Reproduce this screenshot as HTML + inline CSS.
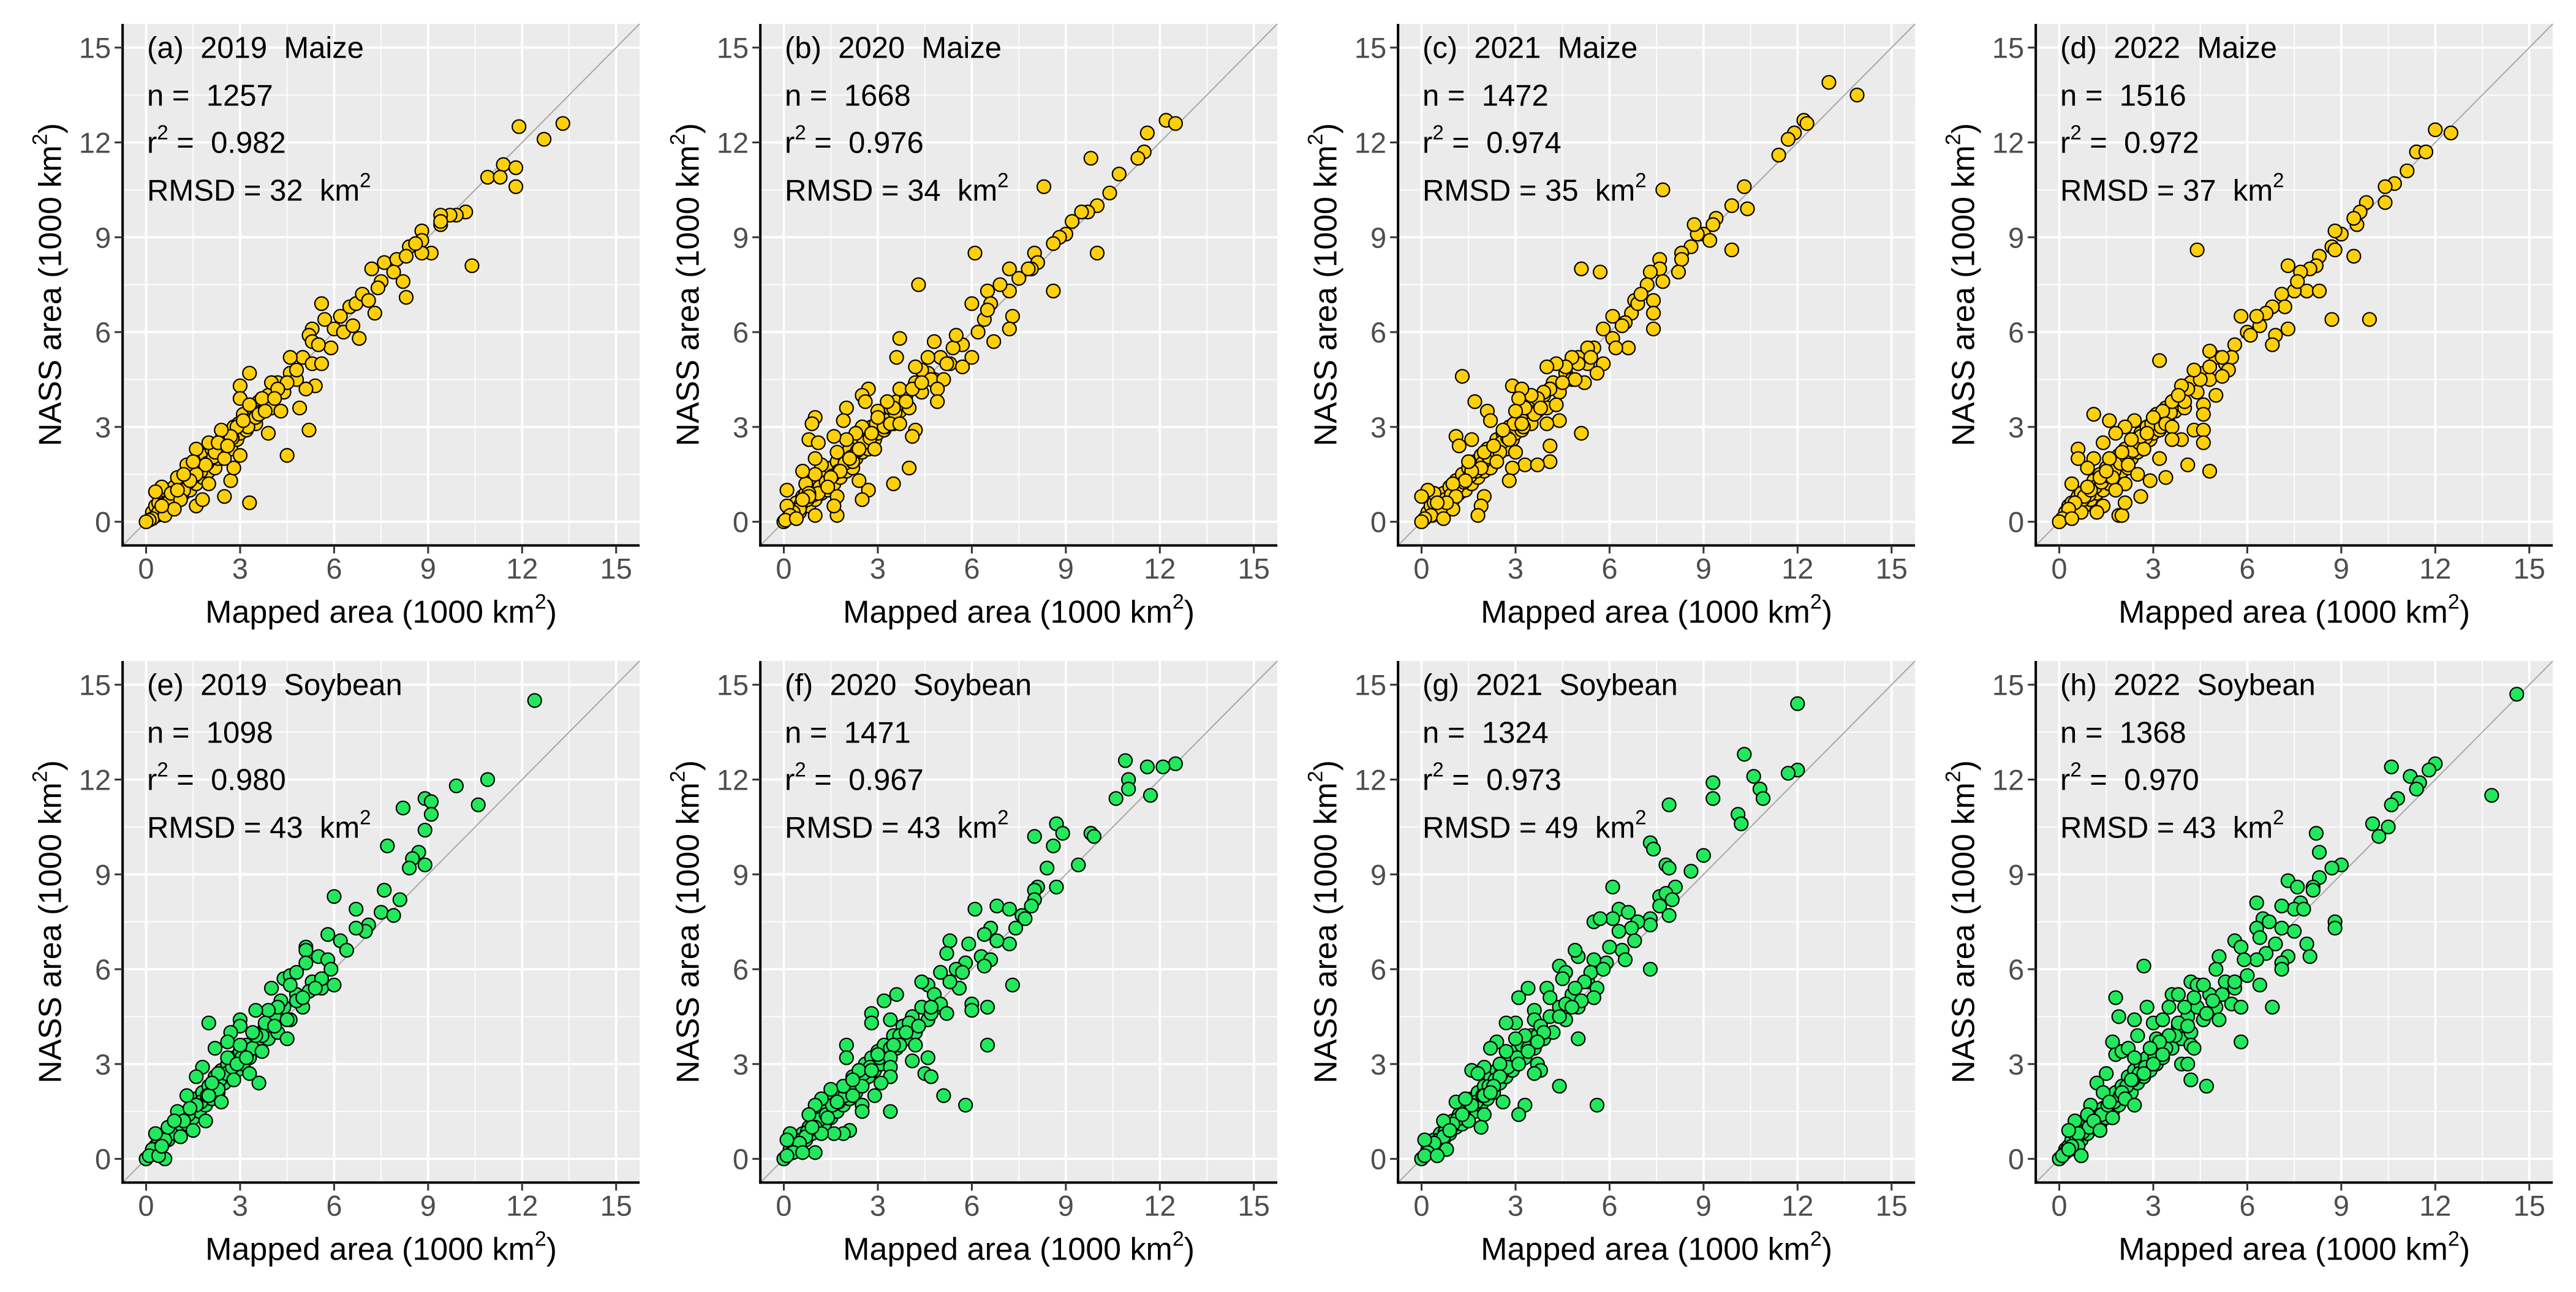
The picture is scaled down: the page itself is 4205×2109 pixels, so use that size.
<!DOCTYPE html>
<html><head><meta charset="utf-8">
<style>
html,body{margin:0;padding:0;background:#fff;}
svg{display:block;}
text{font-family:"Liberation Sans",Arial,sans-serif;}
</style></head>
<body>
<svg id="fig" xmlns="http://www.w3.org/2000/svg" width="4205" height="2109" viewBox="0 0 4205 2109"></svg>
<script>
// ---- data (mapped area, NASS area) in 1000 km2 ----
const maize2019 = [[11.9,12.5],[13.3,12.6],[12.7,12.1],[11.4,11.3],[11.8,11.2],[11.8,10.6],[10.9,10.9],[11.3,10.9],[10.4,8.1],[10.2,9.8],[9.9,9.7],[9.7,9.7],[9.4,9.7],[9.4,9.4],[9.4,9.5],[8.8,9.2],[8.8,8.9],[9.1,8.5],[8.8,8.5],[8.3,7.1],[8.2,7.6],[7.2,8.0],[7.6,8.2],[7.5,7.6],[7.4,7.4],[6.8,5.8],[7.3,6.6],[5.6,6.9],[5.7,6.4],[6.5,6.8],[6.7,6.9],[5.3,6.1],[5.2,5.9],[5.3,5.7],[5.9,5.5],[5.6,5.0],[6.0,6.1],[6.3,6.0],[4.6,5.2],[5.4,4.3],[5.1,4.2],[4.9,3.6],[5.2,2.9],[4.5,2.1],[3.3,4.7],[3.0,4.3],[3.0,3.9],[3.3,0.6],[2.5,0.8],[3.0,2.1],[2.7,1.3],[3.9,2.8],[4.3,3.5],[4.0,4.4],[4.5,4.4],[4.8,4.8],[3.5,3.3],[3.3,3.7],[2.9,3.0],[2.7,2.7],[2.4,2.9],[2.2,2.2],[2.5,2.0],[2.8,1.7],[1.6,2.3],[1.9,1.8],[1.6,1.5],[1.3,1.8],[1.0,1.4],[1.2,1.0],[0.5,1.1],[0.7,0.6],[0.3,0.95],[0.8,0.9],[0.4,0.3],[0.2,0.1],[0.1,0.05],[0,0],[0.6,0.2],[1.6,0.5],[1.8,0.7],[2.0,1.2],[1.1,0.7],[3.7,3.9],[3.6,3.4],[4.2,4.2],[6.9,7.2],[7.1,7.0],[8.0,8.3],[8.4,8.7],[8.6,8.8],[6.2,6.5],[5.5,5.6],[2.0,2.5],[1.4,1.3],[0.9,0.4],[2.3,2.5],[1.0,1.0],[3.1,3.2],[3.8,3.5],[4.1,3.9],[6.6,6.2],[7.9,7.9],[8.3,8.4],[1.5,1.9],[2.6,2.4],[0.5,0.5],[1.2,1.5]];
const maize2020 = [[12.2,12.7],[12.5,12.6],[11.6,12.3],[11.5,11.7],[11.3,11.5],[9.8,11.5],[10.7,11.0],[10.4,10.4],[10.0,10.0],[9.7,9.8],[9.5,9.8],[9.2,9.5],[8.3,10.6],[10.0,8.5],[9.0,9.1],[8.8,9.0],[8.6,8.8],[8.6,7.3],[8.0,8.5],[8.1,8.2],[7.9,8.0],[7.5,7.7],[7.2,8.0],[7.2,7.3],[7.3,6.5],[7.2,6.1],[6.1,8.5],[4.3,7.5],[6.9,7.5],[6.5,7.3],[6.0,6.9],[6.6,6.9],[6.4,6.4],[6.2,6.0],[6.7,5.7],[6.0,5.2],[5.7,5.6],[5.7,4.9],[5.4,5.5],[5.2,5.0],[4.8,5.7],[4.6,5.2],[4.4,4.8],[4.7,4.5],[5.1,4.5],[4.9,4.2],[4.9,3.8],[3.7,5.8],[3.6,5.2],[4.2,4.9],[3.7,4.2],[4.1,4.2],[4.4,4.4],[3.9,3.8],[3.5,3.6],[3.3,3.8],[3.0,3.5],[2.7,4.2],[2.5,4.0],[2.6,3.8],[2.0,3.6],[1.9,3.2],[1.0,3.3],[0.9,3.1],[0.8,2.6],[1.1,2.5],[2.5,3.0],[2.3,2.8],[3.2,3.0],[3.0,3.3],[3.4,3.1],[3.7,3.1],[4.2,2.9],[4.1,2.7],[4.0,1.7],[3.5,1.2],[2.7,1.0],[2.5,0.7],[2.4,1.3],[2.2,1.9],[2.4,2.3],[2.0,2.6],[1.6,2.7],[1.7,2.2],[1.8,1.6],[1.5,1.4],[1.2,1.8],[1.0,1.5],[1.0,2.0],[0.7,1.2],[0.6,1.6],[1.7,0.8],[1.7,0.2],[1.6,0.5],[1.0,0.2],[1.1,0.9],[0.8,0.9],[0.8,0.8],[0.5,0.4],[0.3,0.3],[0.1,1.0],[0.1,0.5],[0.2,0.2],[0,0],[0.05,0.05],[0.4,0.1],[2.9,2.3],[2.8,2.8],[5.5,5.9],[6.5,6.7],[7.8,8.0],[1.4,1.1],[2.1,2.0],[0.6,0.7]];
const maize2021 = [[13.0,13.9],[13.9,13.5],[12.2,12.7],[12.3,12.6],[11.9,12.3],[11.7,12.1],[11.4,11.6],[10.3,10.6],[9.9,10.0],[10.4,9.9],[7.7,10.5],[9.4,9.6],[9.3,9.4],[9.0,9.1],[9.2,8.9],[8.8,9.1],[8.7,9.4],[9.9,8.6],[8.6,8.7],[8.3,8.5],[8.3,8.3],[8.2,7.9],[7.6,8.3],[7.6,8.0],[7.3,7.9],[7.7,7.6],[7.2,7.5],[5.1,8.0],[5.7,7.9],[6.8,7.0],[7.4,7.0],[7.4,6.6],[7.4,6.1],[6.7,6.6],[6.5,6.3],[6.6,5.5],[6.1,6.5],[6.1,5.8],[5.8,6.1],[6.4,6.2],[6.2,5.5],[5.5,5.5],[5.8,5.0],[5.6,4.7],[5.3,5.5],[5.2,4.4],[5.0,5.0],[4.8,5.2],[4.9,4.5],[4.6,4.9],[4.3,5.0],[4.0,4.9],[4.5,4.4],[4.1,4.2],[4.3,3.7],[3.9,4.1],[3.7,3.9],[3.5,4.0],[3.6,3.4],[3.3,3.6],[2.9,4.3],[3.2,4.2],[3.1,3.9],[3.0,3.5],[3.2,3.1],[4.4,3.2],[4.0,3.1],[2.1,3.5],[2.2,3.2],[1.7,3.8],[1.3,4.6],[1.1,2.7],[1.2,2.4],[1.6,2.6],[2.0,2.2],[2.5,2.2],[2.8,2.6],[3.0,2.2],[3.3,1.8],[2.9,1.7],[4.1,2.4],[4.1,1.9],[3.7,1.8],[2.8,1.3],[5.1,2.8],[1.9,1.7],[1.6,1.6],[1.4,1.3],[1.0,1.2],[1.1,0.8],[2.0,0.8],[1.9,0.5],[1.8,0.2],[1.0,0.4],[0.6,0.4],[0.4,0.9],[0.2,1.0],[0.0,0.8],[0.3,0.2],[0.1,0.1],[0,0],[0.8,0.6],[0.7,0.1],[2.3,2.4],[2.6,2.9],[3.8,3.6],[5.4,5.2],[6.9,6.9],[7.0,7.2],[1.5,1.9],[2.4,1.9],[0.5,0.6]];
const maize2022 = [[12.0,12.4],[12.5,12.3],[11.4,11.7],[11.7,11.7],[11.1,11.1],[10.7,10.7],[10.4,10.6],[10.4,10.1],[9.8,10.1],[9.6,9.8],[9.5,9.4],[9.4,9.6],[9.0,9.1],[8.8,9.2],[8.7,8.7],[8.8,8.6],[9.4,8.4],[8.3,8.4],[8.2,8.1],[8.0,8.0],[7.7,7.9],[7.3,8.1],[7.9,7.3],[8.3,7.3],[7.5,7.3],[7.1,7.2],[7.2,6.8],[7.3,6.1],[8.7,6.4],[9.9,6.4],[6.8,6.8],[6.6,6.6],[6.9,5.9],[6.8,5.6],[6.4,6.2],[6.0,6.0],[5.8,6.5],[5.6,5.6],[6.1,5.9],[5.5,5.2],[5.4,4.8],[5.2,5.2],[4.8,5.4],[5.2,4.6],[5.0,4.0],[4.4,8.6],[3.2,5.1],[4.5,4.5],[4.3,4.8],[4.1,4.2],[4.0,3.8],[3.6,3.8],[3.9,4.3],[3.3,3.5],[3.4,3.1],[3.6,3.0],[4.6,3.7],[4.6,3.4],[4.3,2.9],[4.6,2.9],[4.6,2.5],[3.9,2.6],[3.6,2.6],[4.1,1.8],[4.8,1.6],[3.4,1.4],[3.2,2.0],[2.9,1.3],[2.6,0.8],[2.7,2.3],[2.6,2.7],[2.4,3.2],[2.1,3.0],[1.8,2.8],[1.1,3.4],[1.6,3.2],[1.4,2.5],[0.6,2.3],[0.6,2.0],[1.1,2.0],[0.9,1.7],[1.6,2.0],[2.0,2.2],[2.2,1.8],[2.1,1.2],[2.5,1.5],[1.7,1.4],[1.3,1.4],[1.8,1.0],[1.4,0.5],[1.9,0.2],[2.0,0.2],[2.1,0.6],[1.2,0.3],[0.4,1.2],[0.8,0.8],[1.0,1.0],[0.7,0.3],[0.5,0.6],[0.3,0.4],[0.1,0.1],[0,0],[0.4,0.1],[2.8,2.8],[3.0,3.3],[3.8,4.0],[4.8,4.9],[6.3,6.5],[7.6,7.6],[1.5,1.6],[2.3,2.6],[0.9,1.1]];
const soy2019 = [[12.4,14.5],[10.9,12.0],[9.9,11.8],[10.6,11.2],[8.9,11.4],[9.1,11.3],[8.2,11.1],[9.1,10.9],[8.9,10.4],[7.7,9.9],[8.7,9.7],[8.5,9.5],[8.4,9.2],[8.9,9.3],[7.6,8.5],[8.1,8.2],[6.0,8.3],[6.7,7.9],[7.5,7.8],[7.9,7.7],[7.1,7.4],[7.0,7.2],[6.7,7.3],[5.8,7.1],[6.2,6.9],[6.4,6.6],[5.1,6.7],[5.1,6.6],[5.5,6.4],[5.1,6.2],[5.8,6.3],[5.9,6.0],[6.0,5.5],[5.6,5.7],[5.2,5.3],[5.4,5.4],[4.4,5.7],[4.6,5.8],[4.0,5.4],[4.8,5.9],[4.6,5.5],[4.8,5.0],[4.3,5.0],[4.5,4.4],[4.5,3.8],[4.2,4.8],[3.9,4.7],[3.5,4.7],[3.8,4.3],[3.5,3.9],[3.0,4.4],[3.0,4.2],[3.4,4.0],[3.7,3.4],[3.6,2.4],[3.3,2.7],[2.7,4.0],[2.6,3.7],[2.0,4.3],[2.2,3.5],[2.6,3.2],[3.0,3.6],[2.9,3.0],[2.3,2.7],[1.8,2.9],[1.6,2.6],[2.3,2.2],[2.4,1.8],[2.0,2.0],[1.9,1.2],[2.8,2.5],[1.3,2.0],[1.6,1.7],[1.0,1.5],[1.2,1.2],[1.5,0.9],[0.8,0.8],[0.6,0.6],[0.7,1.0],[0.3,0.8],[0.3,0.3],[0.2,0.3],[0,0],[0.1,0.1],[0.6,0],[0.4,0.1],[1.1,0.7],[3.2,3.2],[4.1,4.2],[5.0,5.1],[1.4,1.6],[2.1,2.4],[0.9,1.2],[0.5,0.4]];
const soy2020 = [[12.5,12.5],[12.1,12.4],[11.6,12.4],[10.9,12.6],[11.0,12.0],[11.0,11.7],[11.7,11.5],[10.6,11.4],[8.7,10.6],[8.9,10.3],[8.0,10.2],[8.6,9.9],[9.8,10.3],[9.9,10.2],[8.4,9.2],[9.4,9.3],[8.7,8.6],[8.1,8.6],[8.0,8.5],[8.0,8.2],[7.9,8.0],[7.6,7.7],[6.1,7.9],[6.8,8.0],[7.2,7.9],[7.7,7.6],[7.4,7.3],[7.2,6.8],[6.8,6.9],[6.6,7.3],[6.4,7.1],[5.3,6.9],[5.2,6.5],[5.9,6.8],[6.3,6.4],[6.6,6.3],[6.4,6.1],[5.8,6.2],[5.5,6.0],[5.0,5.9],[4.6,5.5],[4.4,5.6],[4.8,5.2],[5.3,5.6],[5.0,4.9],[5.2,4.6],[4.7,4.6],[7.3,5.5],[6.0,4.9],[6.0,4.7],[6.5,4.8],[6.5,3.6],[3.6,5.2],[3.2,5.0],[2.8,4.6],[2.8,4.3],[3.4,4.4],[4.0,4.3],[3.9,4.0],[4.3,4.2],[4.2,3.6],[3.7,3.6],[3.5,3.6],[3.4,3.2],[3.4,2.9],[3.4,2.6],[3.1,2.4],[2.0,3.6],[2.0,3.2],[2.4,2.8],[2.8,2.8],[2.5,2.3],[2.2,2.0],[2.9,2.0],[2.5,1.7],[2.5,1.5],[3.4,1.5],[4.6,3.2],[4.1,3.1],[4.5,2.7],[4.7,2.6],[5.1,2.0],[5.8,1.7],[2.1,0.9],[1.9,0.8],[1.7,1.8],[1.9,2.3],[1.5,2.2],[1.2,1.9],[1.0,1.7],[0.8,1.4],[1.0,1.0],[1.6,0.8],[1.2,0.8],[0.7,0.7],[0.5,0.5],[0.2,0.8],[0.1,0.6],[0.3,0.2],[0,0],[0.1,0.1],[1.0,0.2],[0.6,0.2],[3.0,3.3],[4.7,4.8],[5.7,5.9],[1.4,1.3],[2.2,2.5],[0.9,1.0]];
const soy2021 = [[12.0,14.4],[10.3,12.8],[12.0,12.3],[11.7,12.2],[10.6,12.1],[9.3,11.9],[9.3,11.4],[10.8,11.7],[10.9,11.4],[7.9,11.2],[10.1,10.9],[10.2,10.6],[7.3,10.0],[7.4,9.8],[9.0,9.6],[7.8,9.3],[7.9,9.2],[8.6,9.1],[6.1,8.6],[8.1,8.6],[7.6,8.3],[7.8,8.4],[8.0,8.2],[7.6,8.0],[7.9,7.7],[6.3,7.9],[6.6,7.8],[6.1,7.6],[5.5,7.5],[5.7,7.6],[7.3,7.6],[7.3,7.4],[6.9,7.5],[6.7,7.3],[6.3,7.2],[6.4,6.6],[6.8,6.9],[7.3,6.0],[6.5,6.3],[6.0,6.7],[5.9,6.2],[5.5,6.3],[5.0,6.4],[4.9,6.6],[4.4,6.1],[4.6,5.9],[5.4,5.9],[5.2,5.6],[5.5,5.1],[4.9,5.4],[4.5,5.7],[4.0,5.4],[4.1,5.1],[4.6,4.9],[5.1,5.0],[5.0,3.8],[3.4,5.4],[3.1,5.1],[3.6,4.7],[3.6,4.4],[3.8,4.2],[3.0,4.3],[2.7,4.3],[4.4,4.5],[3.9,4.0],[3.3,3.9],[3.7,3.7],[3.0,3.8],[2.4,3.7],[2.7,3.4],[2.2,3.5],[3.1,3.0],[3.4,3.4],[3.7,3.0],[3.8,2.8],[3.6,2.7],[2.5,3.0],[2.5,2.6],[2.0,2.9],[1.6,2.8],[1.8,2.7],[2.3,2.3],[2.0,2.0],[4.4,2.3],[2.6,1.8],[3.3,1.7],[3.1,1.4],[5.6,1.7],[2.0,1.4],[1.9,1.0],[1.6,1.7],[1.5,1.2],[1.1,1.8],[1.0,1.1],[0.7,1.2],[0.7,0.7],[0.4,0.5],[0.8,0.3],[0.1,0.6],[0.2,0.2],[0,0],[0.1,0.1],[0.5,0.1],[1.3,1.4],[5.8,6.0],[4.8,4.8],[1.4,1.9],[2.2,2.1],[0.9,0.9]];
const soy2022 = [[14.6,14.7],[13.8,11.5],[12.0,12.5],[11.8,12.3],[10.6,12.4],[11.2,12.1],[11.5,11.9],[11.4,11.7],[10.8,11.4],[10.6,11.2],[10.0,10.6],[10.5,10.5],[10.2,10.2],[8.2,10.3],[8.3,9.7],[9.0,9.3],[8.7,9.2],[8.3,8.9],[7.3,8.8],[7.6,8.6],[8.1,8.6],[8.1,8.5],[6.3,8.1],[7.7,8.1],[7.5,7.9],[7.8,7.9],[7.1,8.0],[6.5,7.6],[6.3,7.3],[6.7,7.5],[7.1,7.3],[7.5,7.2],[8.8,7.5],[8.8,7.3],[7.9,6.8],[8.0,6.4],[7.3,6.4],[7.1,6.2],[7.1,6.0],[6.4,7.0],[6.9,6.8],[6.6,6.5],[6.3,6.3],[5.6,6.9],[5.8,6.7],[5.9,6.3],[5.1,6.4],[5.0,6.0],[6.0,5.8],[6.4,5.5],[5.6,5.6],[5.2,5.2],[5.5,4.9],[5.8,4.8],[6.8,4.8],[5.8,3.7],[2.7,6.1],[4.2,5.6],[4.4,5.5],[4.6,5.5],[3.6,5.2],[3.8,5.2],[4.3,5.1],[4.9,5.0],[4.7,4.6],[5.1,4.4],[4.0,4.8],[3.5,4.8],[1.8,5.1],[1.9,4.5],[2.4,4.4],[2.8,4.8],[3.0,4.3],[3.3,4.4],[3.5,3.9],[3.8,4.3],[4.1,4.2],[4.2,3.6],[4.3,3.5],[3.9,3.0],[4.1,3.0],[4.2,2.5],[4.7,2.3],[2.5,3.9],[3.1,3.8],[3.2,3.7],[2.9,3.5],[3.3,3.3],[3.0,3.0],[2.7,2.7],[1.7,3.7],[1.8,3.3],[2.0,3.4],[2.2,3.5],[2.4,3.2],[2.3,2.5],[2.0,2.1],[1.5,2.7],[1.2,2.4],[1.4,2.1],[1.6,1.8],[1.7,1.3],[2.1,1.9],[2.4,1.7],[1.0,1.7],[0.9,1.4],[0.5,1.2],[1.1,1.2],[0.6,0.8],[0.3,0.9],[0.6,0.4],[0.7,0.1],[0.4,0.4],[0.2,0.2],[0,0],[0.1,0.1],[0.3,0.3],[1.3,0.9]];
// dense near-diagonal cluster (shared estimate for small counties)
const coreMaize = [[0.2,0.3],[0.3,0.5],[0.4,0.6],[0.5,0.3],[0.6,0.8],[0.7,0.9],[0.8,0.5],[0.9,1.1],[1.0,0.7],[1.1,1.3],[1.2,0.9],[1.3,1.5],[1.4,1.0],[1.5,1.7],[1.6,1.2],[1.7,1.9],[1.8,1.4],[1.9,2.1],[2.0,1.6],[2.1,2.3],[2.2,1.7],[2.3,2.0],[2.4,2.6],[2.5,2.2],[2.6,2.8],[2.7,2.3],[2.8,3.0],[2.9,2.6],[3.0,2.8],[3.1,3.4],[3.2,2.9],[3.3,3.2],[3.4,3.6],[3.5,3.1],[3.6,3.8],[3.7,3.5],[3.9,4.0],[4.0,3.6],[4.2,4.4],[4.4,4.1],[4.6,4.7],[4.8,4.5],[5.0,5.2],[5.3,5.0],[0.35,0.2],[0.55,0.55],[0.75,0.7],[0.95,0.85],[1.15,1.1],[1.35,1.25],[1.55,1.45],[1.75,1.6],[1.95,1.85],[2.15,2.05],[2.35,2.25],[2.55,2.5],[2.75,2.65],[2.95,3.1],[3.25,3.0],[3.55,3.45]];
const coreSoy = [[0.2,0.3],[0.3,0.4],[0.4,0.6],[0.5,0.4],[0.6,0.8],[0.7,0.6],[0.8,1.0],[0.9,0.8],[1.0,1.2],[1.1,1.0],[1.2,1.4],[1.3,1.1],[1.4,1.6],[1.5,1.3],[1.6,1.9],[1.7,1.5],[1.8,2.1],[1.9,1.7],[2.0,2.3],[2.1,1.9],[2.2,2.6],[2.3,2.1],[2.4,2.8],[2.5,2.4],[2.6,3.0],[2.7,2.6],[2.8,3.2],[2.9,2.8],[3.0,3.4],[3.1,3.0],[3.2,3.6],[3.3,3.2],[3.5,3.9],[3.6,3.5],[3.8,4.2],[3.9,3.8],[4.1,4.5],[4.2,4.0],[4.4,4.8],[4.6,4.4],[4.8,5.2],[5.0,4.8],[5.3,5.6],[5.6,5.4],[0.35,0.3],[0.55,0.6],[0.75,0.85],[0.95,1.0],[1.15,1.25],[1.35,1.4],[1.55,1.7],[1.75,1.8],[1.95,2.0],[2.15,2.3],[2.35,2.5],[2.55,2.7],[2.75,2.9],[3.05,3.2],[3.4,3.5],[3.7,3.9]];

const panelSeries = [maize2019, maize2020, maize2021, maize2022, soy2019, soy2020, soy2021, soy2022];
const panelLetters = ["(a)","(b)","(c)","(d)","(e)","(f)","(g)","(h)"];
const panelYears = ["2019","2020","2021","2022","2019","2020","2021","2022"];
const panelCrops = ["Maize","Maize","Maize","Maize","Soybean","Soybean","Soybean","Soybean"];
const panelN = ["1257","1668","1472","1516","1098","1471","1324","1368"];
const panelR2 = ["0.982","0.976","0.974","0.972","0.980","0.967","0.973","0.970"];
const panelRMSD = ["32","34","35","37","43","43","49","43"];
const tickValues = [0,3,6,9,12,15];
const minorValues = [1.5,4.5,7.5,10.5,13.5];

const NS = "http://www.w3.org/2000/svg";
const svg = document.getElementById("fig");
const DMIN = -0.75, DMAX = 15.75;
const SX = 51.15, SY = 51.6;

function mk(tag, attrs, parent) {
  const e = document.createElementNS(NS, tag);
  for (const k in attrs) e.setAttribute(k, attrs[k]);
  parent.appendChild(e);
  return e;
}

panelSeries.forEach(function (series, i) {
  const col = i % 4, row = Math.floor(i / 4);
  const ox = 238.5 + 1041 * col;
  const oy = 851.7 + 1040 * row;
  const xs = v => ox + v * SX;
  const ys = v => oy - v * SY;
  const left = xs(DMIN), right = xs(DMAX), top = ys(DMAX), bottom = ys(DMIN);
  const fill = i < 4 ? "#FFCF0A" : "#22E85C";
  const pts = (i < 4 ? coreMaize : coreSoy).concat(series);

  const g = mk("g", {}, svg);
  
  

  const bg = mk("rect", {x: left, y: top, width: right - left, height: bottom - top, fill: "#EBEBEB"}, g);
  
  

  minorValues.forEach(function (v) {
    const lx = mk("line", {x1: xs(v), x2: xs(v), y1: top, y2: bottom, stroke: "#fff", "stroke-width": 1.8}, g);
    
    
    const ly = mk("line", {x1: left, x2: right, y1: ys(v), y2: ys(v), stroke: "#fff", "stroke-width": 1.8}, g);
    
    
  });
  tickValues.forEach(function (v) {
    const lx = mk("line", {x1: xs(v), x2: xs(v), y1: top, y2: bottom, stroke: "#fff", "stroke-width": 3.8}, g);
    
    
    const ly = mk("line", {x1: left, x2: right, y1: ys(v), y2: ys(v), stroke: "#fff", "stroke-width": 3.8}, g);
    
    
  });

  const diag = mk("line", {x1: xs(DMIN), y1: ys(DMIN), x2: xs(DMAX), y2: ys(DMAX), stroke: "#A8A8A8", "stroke-width": 2}, g);
  
  

  pts.forEach(function (p) {
    const c = mk("circle", {cx: xs(p[0]), cy: ys(p[1]), r: 11, fill: fill, stroke: "#000", "stroke-width": 2.2}, g);
    
    
  });

  const ax = mk("line", {x1: left, x2: left, y1: top, y2: bottom + 2, stroke: "#000", "stroke-width": 4}, g);
  
  
  const bx = mk("line", {x1: left - 2, x2: right, y1: bottom, y2: bottom, stroke: "#000", "stroke-width": 4}, g);
  
  

  tickValues.forEach(function (v) {
    const tx = mk("line", {x1: xs(v), x2: xs(v), y1: bottom, y2: bottom + 13, stroke: "#333", "stroke-width": 3}, g);
    
    
    const ty = mk("line", {x1: left - 13, x2: left, y1: ys(v), y2: ys(v), stroke: "#333", "stroke-width": 3}, g);
    
    
    const lx = mk("text", {x: xs(v), y: bottom + 54, "font-size": 47, fill: "#4D4D4D", "text-anchor": "middle"}, g);
    lx.textContent = String(v);
    
    
    const ly = mk("text", {x: left - 19, y: ys(v) + 17, "font-size": 47, fill: "#4D4D4D", "text-anchor": "end"}, g);
    ly.textContent = String(v);
    
    
  });

  const xt = mk("text", {x: (left + right) / 2, y: oy + 165, "font-size": 52, fill: "#000", "text-anchor": "middle"}, g);
  xt.innerHTML = 'Mapped area (1000 km<tspan dy="-23" font-size="34">2</tspan><tspan dy="23">)</tspan>';
  
  

  const cy = (top + bottom) / 2;
  const yt = mk("text", {x: 0, y: 0, "font-size": 52, fill: "#000", "text-anchor": "middle", transform: "translate(" + (ox - 139) + "," + cy + ") rotate(-90)"}, g);
  yt.innerHTML = 'NASS area (1000 km<tspan dy="-23" font-size="34">2</tspan><tspan dy="23">)</tspan>';
  
  

  const ax0 = ox + 1.5;
  const t1 = mk("text", {x: ax0, y: oy - 757, "font-size": 49, fill: "#000"}, g);
  t1.style.whiteSpace = "pre";
  t1.textContent = panelLetters[i] + "  " + panelYears[i] + "  " + panelCrops[i];
  
  

  const t2 = mk("text", {x: ax0, y: oy - 679, "font-size": 49, fill: "#000"}, g);
  t2.style.whiteSpace = "pre";
  t2.textContent = "n =  " + panelN[i];
  
  

  const t3 = mk("text", {x: ax0, y: oy - 602, "font-size": 49, fill: "#000"}, g);
  t3.style.whiteSpace = "pre";
  t3.innerHTML = 'r<tspan dy="-22" font-size="33">2</tspan><tspan dy="22"> =  ' + panelR2[i] + '</tspan>';
  
  

  const t4 = mk("text", {x: ax0, y: oy - 524, "font-size": 49, fill: "#000"}, g);
  t4.style.whiteSpace = "pre";
  t4.innerHTML = 'RMSD = ' + panelRMSD[i] + '  km<tspan dy="-22" font-size="33">2</tspan>';
  
  
});
</script>
</body></html>
